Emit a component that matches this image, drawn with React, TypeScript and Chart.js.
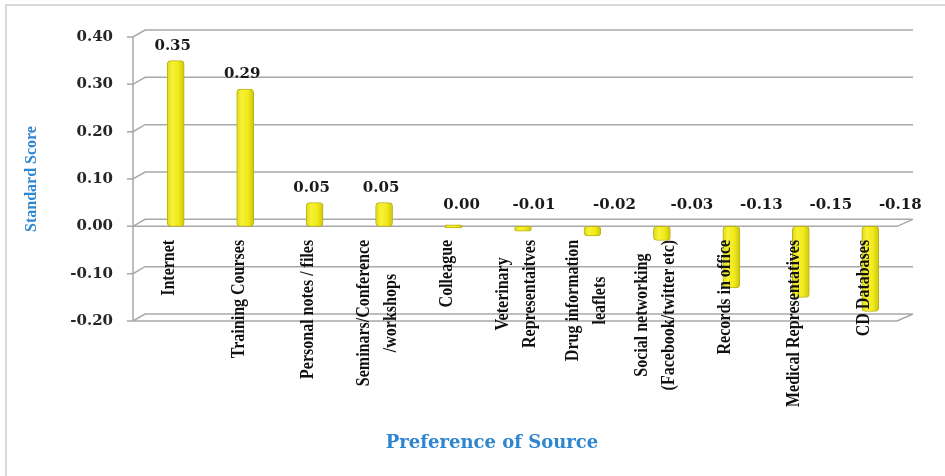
import { useEffect, useRef } from 'react';
import { Chart, registerables } from 'chart.js';

Chart.register(...registerables);

const categories: string[][] = [
  ['Internet'],
  ['Training Courses'],
  ['Personal notes / files'],
  ['Seminars/Conference', '/workshops'],
  ['Colleague'],
  ['Veterinary', 'Representaitves'],
  ['Drug information', 'leaflets'],
  ['Social networking', '(Facebook/twitter etc)'],
  ['Records in office'],
  ['Medical Representatives'],
  ['CD Databases'],
];
const scores: number[] = [0.35, 0.29, 0.05, 0.05, 0.0, -0.01, -0.02, -0.03, -0.13, -0.15, -0.18];
const yTicks: number[] = [-0.2, -0.1, 0, 0.1, 0.2, 0.3, 0.4];
const yTitle = 'Standard Score';
const xTitle = 'Preference of Source';

const BLUE = '#2F86D0';
const GRID = '#A8A8A8';
const NUM_FONT = '"DejaVu Serif"';
const TXT_FONT = '"Liberation Serif"';

const fmt = (v: number) => (Math.abs(v) < 1e-9 ? 0 : v).toFixed(2);

const wallPlugin = {
  id: 'wall3d',
  beforeDatasetsDraw(chart: any) {
    const { ctx, chartArea } = chart;
    const L = chartArea.left;
    const R = chartArea.right;
    const y = chart.scales.y;
    const front = 8;
    const dx = 12;
    const dy = 7;
    const yTop = y.getPixelForValue(yTicks[yTicks.length - 1]);
    const yBot = y.getPixelForValue(yTicks[0]);
    ctx.save();
    ctx.strokeStyle = GRID;
    ctx.lineWidth = 1.5;
    ctx.beginPath();
    ctx.moveTo(L - front, yTop);
    ctx.lineTo(L - front, yBot);
    yTicks.forEach((v) => {
      const p = y.getPixelForValue(v);
      ctx.moveTo(L - front - 6, p);
      ctx.lineTo(L - front, p);
      ctx.lineTo(L - front + dx, p - dy);
      ctx.lineTo(R + front, p - dy);
      if (v === yTicks[0] || v === 0) {
        ctx.moveTo(L - front, p);
        ctx.lineTo(R - front, p);
        ctx.lineTo(R + front, p - dy);
      }
    });
    ctx.stroke();
    ctx.restore();
  },
};

const catLabelPlugin = {
  id: 'catLabels',
  afterDatasetsDraw(chart: any) {
    const { ctx } = chart;
    const x = chart.scales.x;
    const y = chart.scales.y;
    const top = y.getPixelForValue(0) + 13.5;
    const lh = 27;
    ctx.save();
    ctx.font = `bold 16px ${TXT_FONT}`;
    ctx.fillStyle = '#111111';
    ctx.textAlign = 'center';
    ctx.textBaseline = 'middle';
    categories.forEach((lines, i) => {
      const px = x.getPixelForValue(i);
      const n = lines.length;
      const maxW = Math.max(...lines.map((l) => ctx.measureText(l).width));
      lines.forEach((line, j) => {
        const cx = px - 6.5 + (j - (n - 1) / 2) * lh;
        ctx.save();
        ctx.translate(cx, top + maxW / 2);
        ctx.rotate(-Math.PI / 2);
        ctx.scale(1, 1.22);
        ctx.fillText(line, 0, 0);
        ctx.restore();
      });
    });
    ctx.restore();
  },
};

const dataLabelPlugin = {
  id: 'dataLabels',
  afterDatasetsDraw(chart: any) {
    const { ctx } = chart;
    const meta = chart.getDatasetMeta(0);
    const zero = chart.scales.y.getPixelForValue(0);
    ctx.save();
    ctx.font = `bold 15px ${NUM_FONT}`;
    ctx.fillStyle = '#1A1A1A';
    ctx.textAlign = 'center';
    ctx.textBaseline = 'middle';
    meta.data.forEach((el: any, i: number) => {
      const v = scores[i];
      let tx: number;
      let ty: number;
      if (v > 0) {
        tx = el.x - 3;
        ty = el.y - 15;
      } else {
        tx = el.x + Math.max(8, Math.min(30, 1100 * Math.abs(v)));
        ty = zero - 21;
      }
      ctx.fillText(fmt(v), tx, ty);
    });
    ctx.restore();
  },
};

export default function App() {
  const ref = useRef<HTMLCanvasElement | null>(null);

  useEffect(() => {
    if (!ref.current) return;
    const chart = new Chart(ref.current, {
      type: 'bar',
      data: {
        labels: categories,
        datasets: [
          {
            data: scores,
            yAxisID: 'y',
            backgroundColor: (c: any) => {
              const ch = c.chart;
              if (c.dataIndex == null || !ch.scales || !ch.scales.x) return '#EFE81A';
              const px = ch.scales.x.getPixelForValue(c.dataIndex);
              if (!Number.isFinite(px)) return '#EFE81A';
              const g = ch.ctx.createLinearGradient(px - 9, 0, px + 9, 0);
              g.addColorStop(0, '#DDD414');
              g.addColorStop(0.3, '#F7F236');
              g.addColorStop(0.65, '#F1EA1A');
              g.addColorStop(1, '#CAC20E');
              return g;
            },
            borderColor: '#BBB316',
            borderWidth: 1,
            borderSkipped: false,
            borderRadius: 4,
            barThickness: 17,
            minBarLength: 3,
          } as any,
        ],
      },
      options: {
        responsive: false,
        animation: false,
        devicePixelRatio: 1,
        layout: { padding: { left: 0, right: 0, top: 35, bottom: 0 } },
        plugins: {
          legend: { display: false },
          tooltip: { enabled: false },
          title: {
            display: true,
            position: 'bottom',
            text: xTitle,
            color: BLUE,
            font: { family: NUM_FONT, size: 18, weight: 'bold' },
            padding: { top: 111.4, bottom: 22 },
          },
        },
        scales: {
          x: { display: false },
          y: {
            position: 'left',
            min: -0.2,
            max: 0.4,
            afterBuildTicks: (s: any) => {
              s.ticks = yTicks.map((v) => ({ value: v }));
            },
            afterFit: (s: any) => {
              s.width = 141;
            },
            grid: { display: false, drawTicks: false },
            border: { display: false },
            ticks: {
              padding: 28,
              color: '#262626',
              font: { family: NUM_FONT, size: 15, weight: 'bold' },
              callback: (v: any) => fmt(Number(v)),
            },
            title: {
              display: true,
              text: yTitle,
              color: BLUE,
              font: { family: TXT_FONT, size: 16, weight: 'bold' },
              padding: { top: 22, bottom: 0 },
            },
          },
          yRight: {
            type: 'linear',
            position: 'right',
            min: -0.2,
            max: 0.4,
            afterFit: (s: any) => {
              s.width = 79;
            },
            grid: { display: false, drawTicks: false },
            border: { display: false },
            ticks: { display: false },
          },
        },
      } as any,
      plugins: [wallPlugin, catLabelPlugin, dataLabelPlugin],
    });
    return () => chart.destroy();
  }, []);

  return (
    <div
      style={{
        position: 'fixed',
        left: 0,
        top: 0,
        width: 945,
        height: 476,
        overflow: 'hidden',
        background: '#ffffff',
      }}
    >
      <canvas ref={ref} width={984} height={476} style={{ display: 'block', width: 984, height: 476 }} />
      <div
        style={{
          position: 'absolute',
          left: 5,
          top: 4,
          width: 960,
          height: 500,
          borderTop: '2px solid #D9D9D9',
          borderLeft: '2px solid #D9D9D9',
          pointerEvents: 'none',
        }}
      />
    </div>
  );
}
